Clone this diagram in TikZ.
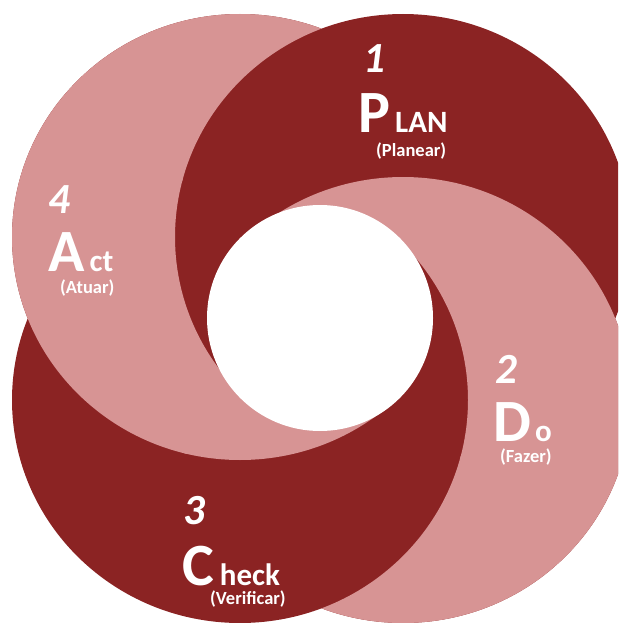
\documentclass[tikz,border=0pt]{standalone}
\usepackage{fontspec}
\setmainfont{Carlito}
\definecolor{pdcadark}{RGB}{139,35,35}
\definecolor{pdcalight}{RGB}{215,148,148}

\newcommand{\actdisk}{(240,237) ellipse [x radius=228, y radius=223]}
\newcommand{\plandisk}{(403,237) ellipse [x radius=228, y radius=223]}
\newcommand{\dodisk}{(403,400) ellipse [x radius=228, y radius=223]}
\newcommand{\checkdisk}{(240,400) ellipse [x radius=228, y radius=223]}
\newcommand{\outside}{(-20,-20) rectangle (640,645)}

\begin{document}
\begin{tikzpicture}[x=1pt, y=-1pt,
    numlabel/.style={anchor=base west, inner sep=0pt, text=white, font=\fontsize{43}{43}\selectfont\bfseries\itshape},
    steplabel/.style={anchor=base west, inner sep=0pt, text=white, font=\bfseries},
    sublabel/.style={anchor=base west, inner sep=0pt, text=white, font=\fontsize{18.5}{18.5}\selectfont\bfseries}]
  \useasboundingbox (0,0) rectangle (618,623);
  \clip (0,0) rectangle (618,623);

  \fill[pdcadark] \actdisk \plandisk \dodisk \checkdisk;

  \begin{scope}
    \clip (321,318) -- (-93,-92) -- (735,-92) -- cycle;
    \fill[pdcalight] \dodisk;
    \begin{scope}[even odd rule]
      \clip \outside \plandisk;
      \fill[pdcalight] \actdisk;
    \end{scope}
  \end{scope}
  \begin{scope}
    \clip (321,318) -- (731,-96) -- (731,732) -- cycle;
    \begin{scope}[even odd rule]
      \clip \outside \checkdisk;
      \fill[pdcalight] \dodisk;
      \begin{scope}
        \clip \outside \plandisk;
        \fill[pdcalight] \actdisk;
      \end{scope}
    \end{scope}
  \end{scope}
  \begin{scope}
    \clip (321,318) -- (735,728) -- (-93,728) -- cycle;
    \fill[pdcalight] \actdisk;
    \begin{scope}[even odd rule]
      \clip \outside \checkdisk;
      \fill[pdcalight] \dodisk;
    \end{scope}
  \end{scope}
  \begin{scope}
    \clip (321,318) -- (-89,732) -- (-89,-96) -- cycle;
    \begin{scope}[even odd rule]
      \clip \outside \plandisk;
      \fill[pdcalight] \actdisk;
      \begin{scope}
        \clip \outside \checkdisk;
        \fill[pdcalight] \dodisk;
      \end{scope}
    \end{scope}
  \end{scope}

  \fill[white] (320,318) circle [radius=113];

  \node[numlabel] (plannum) at (363,73) {1};
  \node[steplabel] (planword) at (358,132) {\fontsize{60}{60}\selectfont P\kern5pt\fontsize{31}{31}\selectfont LAN};
  \node[sublabel] (plansub) at (376,156.5) {(Planear)};

  \node[numlabel] (donum) at (495,383) {2};
  \node[steplabel] (doword) at (493,441) {\fontsize{60}{60}\selectfont D\kern4pt\fontsize{31}{31}\selectfont o};
  \node[sublabel] (dosub) at (500,462.5) {(Fazer)};

  \node[numlabel] (checknum) at (183,524) {3};
  \node[steplabel] (checkword) at (182,585) {\fontsize{60}{60}\selectfont C\kern6pt\fontsize{31}{31}\selectfont heck};
  \node[sublabel] (checksub) at (210,604.5) {(Verificar)};

  \node[numlabel] (actnum) at (48,213) {4};
  \node[steplabel] (actword) at (48,271) {\fontsize{60}{60}\selectfont A\kern5pt\fontsize{31}{31}\selectfont ct};
  \node[sublabel] (actsub) at (60,293.5) {(Atuar)};
\end{tikzpicture}
\end{document}
